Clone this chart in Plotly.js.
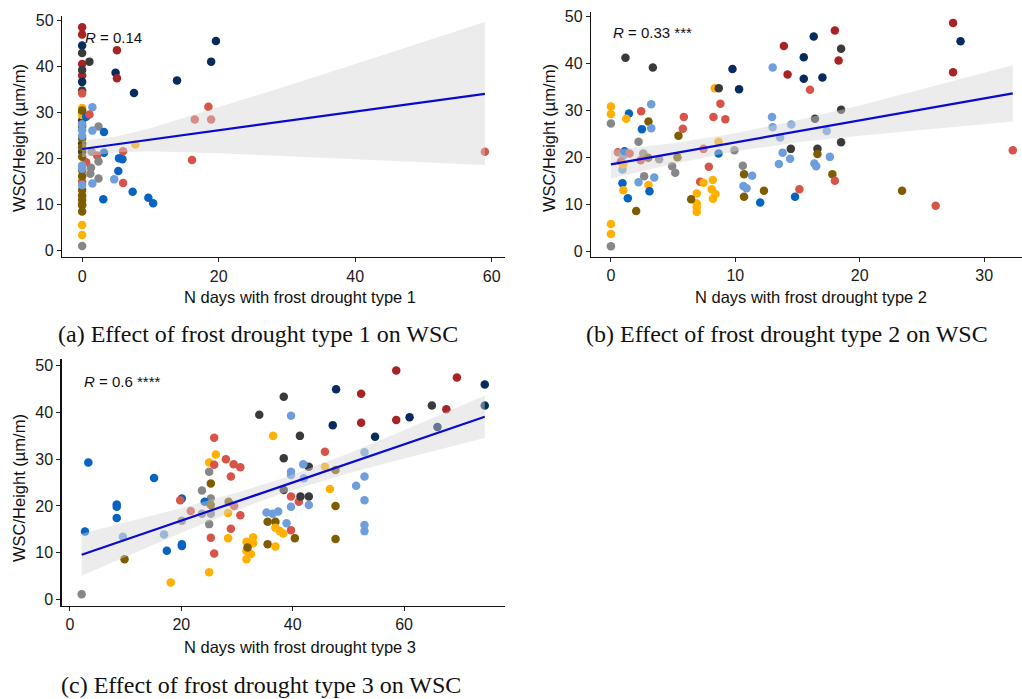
<!DOCTYPE html>
<html>
<head>
<meta charset="utf-8">
<script src="https://cdn.plot.ly/plotly-3.0.1.min.js"></script>
<style>html,body{margin:0;padding:0;background:#fff;}#chart{width:1022px;height:699px;}</style>
</head>
<body>
<div id="chart"></div>
<script>
// ---------- colour keys ----------
const colorMap = {
  dr: '#A82424', // dark red
  rd: '#D65548', // red
  ye: '#FFB000', // yellow/orange
  ol: '#7E5D00', // olive brown
  gy: '#878787', // gray
  dg: '#3A3A3A', // dark gray
  nv: '#062B5C', // navy
  bl: '#0663C2', // blue
  lb: '#6F9EDC'  // light blue
};

// ---------- Panel (a): frost drought type 1 ----------
const xA = [0,0,0,0, 0,0, 0,0,0,0,0,0,0, 0,0.6,0,0, 0,0,0,0,0,
  0,0,0,0,0,0,0,0,0,0,0,0, 0,0,0,0,0,0, 0, 0.6,
  1.07,5.1,4.9,5.1,7.6,13.9,19.6,18.9,18.5,16.5,18.9,16.1,1.5,1.07,2.4,1.5,3.2,7.8,1.4,3.2,2.2,6.0,2.4,5.4,5.9,1.3,1.2,2.4,1.5,4.7,5.3,6.0,7.4,3.1,9.7,10.4,59];
const yA = [48.6,47.0,40.6,38.1, 44.6,36.7, 43.0,39.3,34.8,30.0,28.3,23.3,21.5, 34.2,19.2,15.0,9.9, 31.0,29.5,12.0,5.6,3.4,
  30.5,27.0,24.4,22.5,20.4,17.5,16.2,13.2,12.0,11.0,10.0,8.5, 27.5,26.2,25.0,18.5,17.8,14.3, 1.0, 29.1,
  41.1,43.6,38.7,37.5,34.3,37.0,45.6,41.1,31.3,28.5,28.5,19.7,31.2,29.6,27.0,26.1,25.8,23.1,21.5,21.3,20.7,21.6,19.4,20.1,19.9,18.0,16.7,15.7,14.6,15.5,17.3,14.7,12.8,11.2,11.5,10.3,21.5];
const cA = ['dr','dr','dr','dr', 'nv','nv', 'dg','dg','dg','dg','dg','dg','dg', 'rd','rd','rd','rd', 'ye','ye','ye','ye','ye',
  'ol','ol','ol','ol','ol','ol','ol','ol','ol','ol','ol','ol', 'lb','lb','lb','lb','lb','lb', 'gy', 'bl',
  'dg','dr','nv','dr','nv','nv','nv','nv','rd','rd','rd','rd','lb','rd','gy','lb','bl','ye','gy','bl','rd','rd','gy','bl','bl','gy','gy','gy','lb','lb','bl','rd','bl','bl','bl','bl','rd'];
const fitXA = [0, 59];
const fitYA = [22.1, 34.1];
const bandXA = [0, 5, 10, 20, 30, 40, 50, 59];
const bandLoA = [20.3, 21.4, 21.6, 21.2, 20.6, 19.8, 19.2, 18.6];
const bandHiA = [23.9, 24.8, 26.6, 31.2, 35.8, 40.6, 45.4, 49.7];

// ---------- Panel (b): frost drought type 2 ----------
const xB = [1.17,3.37,9.77,10.3,8.35,8.67,13.0,13.9,14.2,0,0,0,1.45,1.23,2.43,3.24,3.02,2.49,3.24,2.22,5.86,5.78,5.43,8.24,8.8,9.2,8.65,8.65,9.93,7.44,
  0.56,1.0,1.1,1.5,0.8,0.93,1.0,2.6,2.4,3.0,3.88,5.35,4.92,5.17,2.67,3.48,2.22,0.93,1.0,3.02,3.1,1.36,2.03,0,0,0,
  7.87,7.17,7.44,8.19,8.1,8.4,8.2,6.9,6.9,6.9,6.9,6.45,10.6,10.7,11.35,10.65,10.9,10.7,12.3,12.0,12.95,13.0,13.6,14.5,14.46,13.8,14.4,13.5,14.8,15.15,
  16.3,18.0,18.5,15.5,18.3,15.5,17.0,16.0,18.5,16.4,17.35,16.6,18.5,16.6,17.6,16.35,16.5,17.8,18.0,23.4,26.1,27.5,28.1,27.5,32.3];
const yB = [41.2,39.1,38.8,34.5,34.7,34.7,39.1,43.7,37.6,30.8,29.2,27.2,29.3,28.2,29.8,31.3,27.6,26.0,26.2,23.3,28.6,26.1,24.6,28.6,31.4,28.1,23.3,20.8,21.5,21.8,
  21.1,20.4,21.3,20.8,19.1,17.4,18.5,20.8,19.4,19.9,19.6,20.0,18.1,16.7,16.0,15.7,14.7,14.5,13.0,14.1,12.8,11.3,8.6,5.8,3.7,1.1,
  18.0,14.8,14.6,15.2,13.2,12.2,11.2,12.3,10.2,9.4,8.4,11.1,18.2,16.4,16.1,13.9,13.4,11.6,12.9,10.4,28.6,26.4,24.2,27.0,21.8,21.0,19.7,18.6,11.6,13.2,
  45.7,47.0,43.1,41.3,40.6,36.7,37.0,34.4,30.1,28.2,25.6,21.8,23.2,20.7,20.1,18.7,18.1,16.4,15.0,12.9,9.7,48.6,44.7,38.1,21.5];
const cB = ['dg','dg','nv','nv','ye','dg','lb','dr','dr','ye','ye','gy','bl','ye','rd','lb','ol','bl','lb','gy','rd','rd','ol','rd','rd','rd','ye','bl','gy','rd',
  'rd','lb','bl','rd','rd','lb','ye','gy','rd','ol','gy','ol','gy','gy','gy','lb','lb','bl','ye','ye','bl','bl','ol','ye','ye','gy',
  'rd','rd','ye','ye','ye','ye','ye','ye','ye','ye','ye','ol','gy','ol','lb','lb','lb','ol','ol','bl','lb','lb','lb','lb','dg','lb','lb','lb','bl','rd',
  'nv','dr','dg','nv','dr','nv','nv','rd','dg','dg','lb','dg','dg','ol','lb','lb','lb','ol','rd','ol','rd','dr','nv','dr','rd'];
const fitXB = [0, 32.3];
const fitYB = [18.5, 33.6];
const bandXB = [0, 5, 10, 15, 20, 25, 32.3];
const bandLoB = [15.5, 18.6, 21.3, 23.2, 24.6, 25.9, 27.6];
const bandHiB = [21.5, 23.0, 25.1, 27.9, 31.0, 34.5, 39.6];

// ---------- Panel (c): frost drought type 3 ----------
const xC = [2.1,2.7,3.3,8.4,8.4,8.4,9.5,9.8,15.1,16.9,17.4,18.1,20.1,19.8,20.1,20.1,20.1,21.7,
  25.9,26.2,25.0,25.9,25.0,28.0,29.4,30.6,28.9,25.3,23.7,25.3,24.2,25.3,25.3,23.7,28.5,29.5,28.4,30.6,25.0,28.9,28.4,25.3,25.9,25.0,
  31.7,32.9,32.9,31.7,32.5,31.7,31.9,34.0,38.4,39.7,36.5,41.3,38.4,42.9,41.9,39.7,39.7,42.0,38.4,39.7,41.1,41.4,42.9,39.7,42.9,
  35.3,36.4,37.4,35.5,36.9,38.9,36.9,37.7,38.3,39.7,35.5,36.9,40.4,47.2,47.8,45.8,45.8,47.7,46.7,47.7,47.7,
  58.6,69.5,74.5,74.5,65.0,67.6,52.3,52.3,58.6,61.0,54.8,66.0,52.9,52.9,51.4,52.9,52.9,52.9];
const yC = [1.07,14.5,29.3,20.3,19.8,17.4,13.4,8.6,26.0,13.9,10.4,3.6,21.6,21.2,16.8,11.8,11.4,18.9,
  34.6,31.0,29.3,28.8,27.3,30.0,28.9,28.3,26.3,24.8,23.3,21.6,20.9,20.2,18.3,18.3,20.9,20.0,18.5,18.0,16.1,15.1,13.1,13.2,9.8,5.8,
  12.3,13.3,12.0,10.4,9.7,8.6,11.1,39.5,43.4,39.3,35.0,35.0,30.2,28.4,28.9,27.3,26.6,25.9,23.4,22.0,20.9,22.0,22.0,19.8,20.2,
  18.6,18.3,18.8,16.6,16.6,16.3,15.3,14.6,14.1,14.8,11.8,11.3,13.1,37.3,45.0,31.6,28.4,27.7,23.6,20.0,12.9,
  49.0,47.5,46.0,41.5,41.5,40.7,44.0,37.8,38.4,39.0,34.8,36.9,31.5,26.3,24.3,21.2,15.9,14.6];
const cC = ['gy','bl','bl','bl','bl','bl','lb','ol','bl','lb','bl','ye','bl','rd','gy','bl','bl','rd',
  'rd','ye','ye','rd','gy','rd','rd','rd','rd','ol','gy','gy','bl','ol','gy','gy','ol','rd','ye','rd','gy','rd','ye','rd','rd','ye',
  'ye','ye','ye','ye','ye','ye','ol','dg','dg','lb','ye','dg','dg','dg','lb','lb','lb','lb','dg','rd','rd','dg','dg','lb','lb',
  'lb','lb','lb','ol','ol','lb','ye','ye','ye','rd','ol','ye','ol','nv','nv','rd','ye','ol','ye','ol','ol',
  'dr','dr','nv','nv','dg','dr','dr','dr','dr','nv','nv','nv','lb','lb','lb','lb','lb','lb'];
const fitXC = [2.1, 74.5];
const fitYC = [9.55, 39.1];
const bandXC = [2.1, 10, 20, 30, 38, 50, 60, 74.5];
const bandLoC = [5.05, 9.16, 14.26, 19.15, 22.6, 26.97, 30.17, 34.54];
const bandHiC = [14.05, 16.44, 19.54, 22.85, 25.8, 31.23, 36.23, 43.66];

// ---------- text ----------
const xTitles = ['N days with frost drought type 1', 'N days with frost drought type 2', 'N days with frost drought type 3'];
const yTitle = 'WSC/Height (µm/m)';
const rLabels = ['<i>R</i> = 0.14', '<i>R</i> = 0.33 ***', '<i>R</i> = 0.6 ****'];
const captions = ['(a) Effect of frost drought type 1 on WSC', '(b) Effect of frost drought type 2 on WSC', '(c) Effect of frost drought type 3 on WSC'];

// ---------- build traces ----------
const traces = [];
function addPanel(xs, ys, cs, fx, fy, bx, blo, bhi, xa, ya) {
  traces.push({
    type: 'scatter', mode: 'markers', x: xs, y: ys, xaxis: xa, yaxis: ya,
    marker: {size: 8.5, color: cs.map(c => colorMap[c]), line: {width: 0}},
    hoverinfo: 'skip'
  });
  traces.push({
    type: 'scatter', mode: 'lines', x: bx.concat(bx.slice().reverse()),
    y: bhi.concat(blo.slice().reverse()), xaxis: xa, yaxis: ya,
    fill: 'toself', fillcolor: 'rgba(212,212,212,0.45)', line: {width: 0, color: 'rgba(0,0,0,0)'},
    hoverinfo: 'skip'
  });
  traces.push({
    type: 'scatter', mode: 'lines', x: fx, y: fy, xaxis: xa, yaxis: ya,
    line: {color: '#0A0ACF', width: 2.2}, hoverinfo: 'skip'
  });
}
addPanel(xA, yA, cA, fitXA, fitYA, bandXA, bandLoA, bandHiA, 'x', 'y');
addPanel(xB, yB, cB, fitXB, fitYB, bandXB, bandLoB, bandHiB, 'x2', 'y2');
addPanel(xC, yC, cC, fitXC, fitYC, bandXC, bandLoC, bandHiC, 'x3', 'y3');

const W = 1022, H = 699;
const px = v => v / W;
const py = v => 1 - v / H;
const tickFont = {family: 'Liberation Sans, Arial, sans-serif', size: 16, color: '#1a1a1a'};
function xax(dom, rng, tv, anchor) {
  return {domain: dom, range: rng, tickvals: tv, ticks: 'outside', ticklen: 4, tickwidth: 1, tickcolor: '#222',
    showline: true, linecolor: '#111', linewidth: 1.2, showgrid: false, zeroline: false, tickfont: tickFont, anchor: anchor};
}
function yax(dom, rng, anchor) {
  return {domain: dom, range: rng, tickvals: [0,10,20,30,40,50], ticks: 'outside', ticklen: 4, tickwidth: 1, tickcolor: '#222',
    showline: true, linecolor: '#111', linewidth: 1.2, showgrid: false, zeroline: false, tickfont: tickFont, anchor: anchor};
}

const textFont = {family: 'Liberation Sans, Arial, sans-serif', size: 16.5, color: '#111'};
const rFont = {family: 'Liberation Sans, Arial, sans-serif', size: 15, color: '#111'};
const capFont = {family: 'Liberation Serif, Times New Roman, serif', size: 24, color: '#111'};
const annotations = [
  {text: xTitles[0], x: px(300), y: py(297)},
  {text: xTitles[1], x: px(811), y: py(297)},
  {text: xTitles[2], x: px(300), y: py(647)},
  {text: yTitle, x: px(19), y: py(138), textangle: -90},
  {text: yTitle, x: px(549), y: py(138), textangle: -90},
  {text: yTitle, x: px(19), y: py(488), textangle: -90},
  {text: rLabels[0], x: px(83), y: py(38), xanchor: 'left', font: rFont},
  {text: rLabels[1], x: px(611), y: py(32), xanchor: 'left', font: rFont},
  {text: rLabels[2], x: px(82), y: py(381), xanchor: 'left', font: rFont},
  {text: captions[0], x: px(258), y: py(334), font: capFont},
  {text: captions[1], x: px(787), y: py(334), font: capFont},
  {text: captions[2], x: px(261), y: py(685), font: capFont}
].map(a => Object.assign({xref: 'paper', yref: 'paper', showarrow: false, xanchor: 'center', yanchor: 'middle', font: textFont}, a));

const layout = {
  width: W, height: H, margin: {l: 0, r: 0, t: 0, b: 0},
  paper_bgcolor: '#fff', plot_bgcolor: '#fff', showlegend: false,
  xaxis: xax([px(62), px(505)], [-2.95, 61.95], [0,20,40,60], 'y'),
  yaxis: yax([py(257.1), py(16.1)], [-1.4, 51.0], 'x'),
  xaxis2: xax([px(591), 1], [-1.6, 33.04], [0,10,20,30], 'y2'),
  yaxis2: yax([py(257), py(11.6)], [-1.2, 51.0], 'x2'),
  xaxis3: xax([px(61.5), px(504.8)], [-1.52, 78.1], [0,20,40,60], 'y3'),
  yaxis3: yax([py(605.5), py(359.3)], [-1.33, 51.4], 'x3'),
  annotations: annotations
};

Plotly.newPlot('chart', traces, layout, {staticPlot: true, displayModeBar: false});
</script>
</body>
</html>
